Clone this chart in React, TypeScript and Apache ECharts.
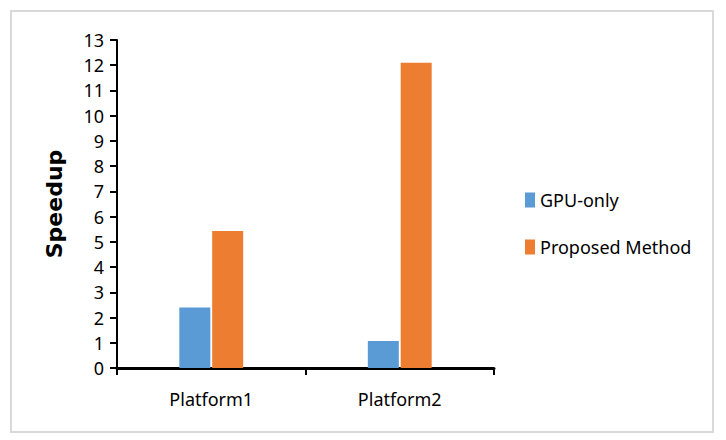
import React, { useEffect, useRef } from "react";
import * as echarts from "echarts";

const categories = ["Platform1", "Platform2"];
const gpuOnly = [2.4, 1.07];
const proposed = [5.43, 12.1];
const seriesNames = ["GPU-only", "Proposed Method"];
const yTicks = { min: 0, max: 13, interval: 1 };

export default function App() {
  const ref = useRef<HTMLDivElement>(null);
  useEffect(() => {
    if (!ref.current) return;
    const chart = echarts.init(ref.current, null, { renderer: "svg" });
    chart.setOption({
      animation: false,
      backgroundColor: "#ffffff",
      textStyle: { fontFamily: "Noto Sans" },
      graphic: [
        {
          type: "rect",
          shape: { x: 11, y: 11, width: 702, height: 421 },
          style: { fill: "none", stroke: "#d9d9d9", lineWidth: 2 },
          silent: true,
        },
      ],
      grid: { left: 117, right: 232, top: 40, bottom: 72 },
      legend: {
        orient: "vertical",
        left: 520,
        top: 185,
        itemWidth: 10,
        itemHeight: 15,
        itemGap: 27,
        icon: "rect",
        textStyle: { fontSize: 18, color: "#000", lineHeight: 20, fontFamily: "Noto Sans" },
        data: seriesNames,
      },
      xAxis: {
        type: "category",
        data: categories,
        axisLine: { lineStyle: { color: "#000", width: 3 } },
        axisTick: { show: true, length: 7, lineStyle: { color: "#000", width: 2 } },
        axisLabel: { fontSize: 18, color: "#000", margin: 22 },
        splitLine: { show: false },
      },
      yAxis: {
        type: "value",
        min: yTicks.min,
        max: yTicks.max,
        interval: yTicks.interval,
        name: "Speedup",
        nameLocation: "middle",
        nameGap: 52,
        nameTextStyle: { fontSize: 22, fontWeight: "bold", color: "#000", fontFamily: "DejaVu Sans" },
        axisLine: { show: true, lineStyle: { color: "#000", width: 2 } },
        axisTick: { show: true, length: 7, lineStyle: { color: "#000", width: 2 } },
        axisLabel: { fontSize: 18, color: "#000", margin: 13 },
        splitLine: { show: false },
      },
      series: [
        {
          name: seriesNames[0],
          type: "bar",
          data: gpuOnly,
          barWidth: 31,
          barGap: "6%",
          itemStyle: { color: "#5B9BD5" },
        },
        {
          name: seriesNames[1],
          type: "bar",
          data: proposed,
          barWidth: 31,
          barGap: "6%",
          itemStyle: { color: "#ED7D31" },
        },
      ],
    });
    return () => chart.dispose();
  }, []);
  return (
    <div
      ref={ref}
      style={{ position: "absolute", left: 0, top: 0, width: 726, height: 440 }}
    />
  );
}
